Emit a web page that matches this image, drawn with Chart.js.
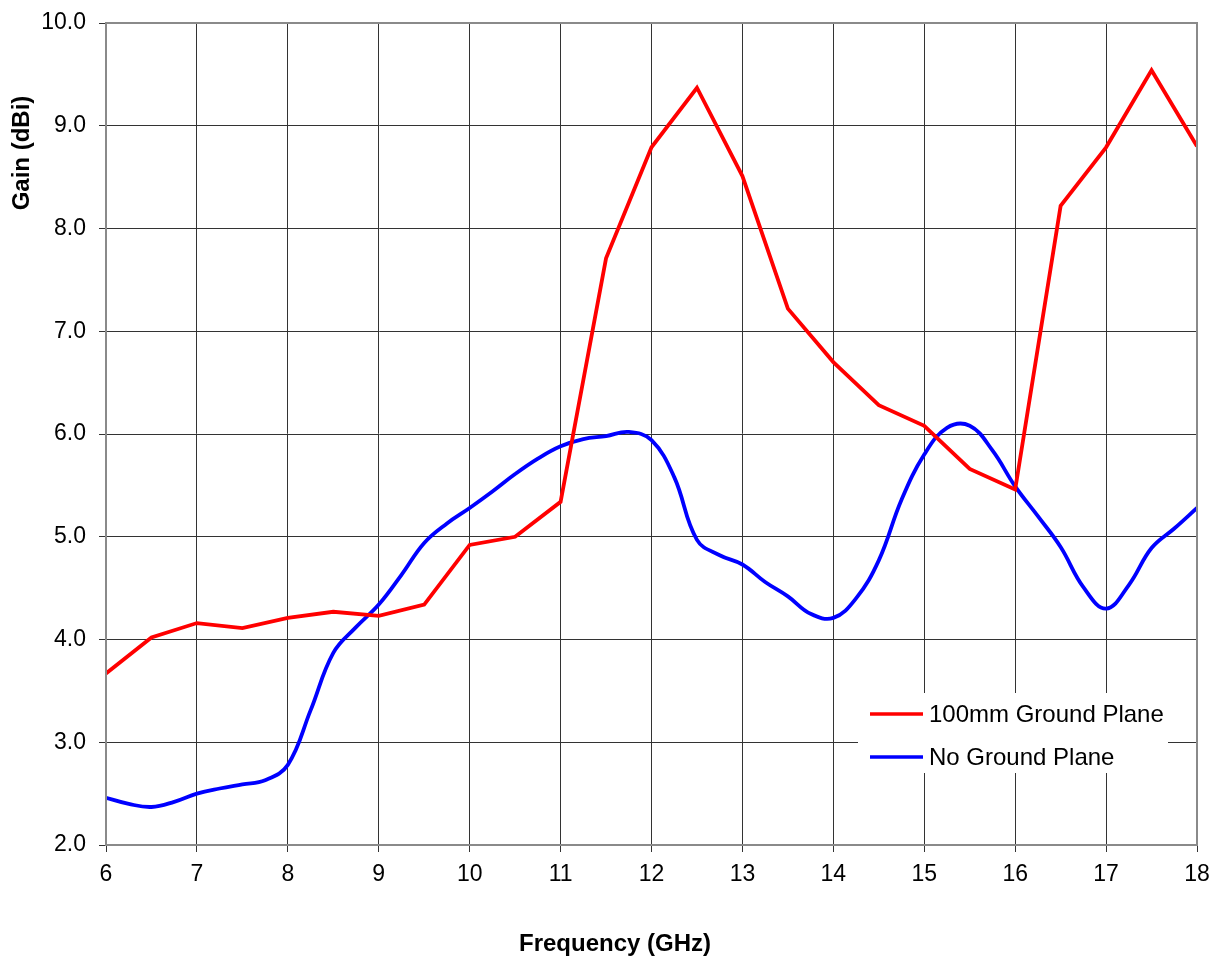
<!DOCTYPE html>
<html>
<head>
<meta charset="utf-8">
<title>Gain vs Frequency</title>
<script src="https://cdn.jsdelivr.net/npm/chart.js@4/dist/chart.umd.min.js"></script>
<style>
  html, body { margin: 0; padding: 0; background: #fff; }
  #wrap { width: 1211px; height: 956px; }
</style>
</head>
<body>
<div id="wrap"><canvas id="gainChart" width="1211" height="956"></canvas></div>
<script>
// frecuencias en GHz
const freqGround = [6, 6.5, 7, 7.5, 8, 8.5, 9, 9.5, 10, 10.5, 11, 11.5, 12, 12.5, 13, 13.5, 14, 14.5, 15, 15.5, 16, 16.5, 17, 17.5, 18]
const gainGround = [3.67, 4.02, 4.16, 4.11, 4.21, 4.27, 4.23, 4.34, 4.92, 5.00, 5.34, 7.71, 8.79, 9.37, 8.51, 7.22, 6.70, 6.28, 6.08, 5.66, 5.46, 8.22, 8.79, 9.54, 8.80]

const freqNoGround = [6, 6.25, 6.5, 6.75, 7, 7.25, 7.5, 7.75, 8, 8.25, 8.5, 8.75, 9, 9.25, 9.5, 9.75, 10, 10.25, 10.5, 10.75, 11, 11.25, 11.5, 11.75, 12, 12.25, 12.5, 12.75, 13, 13.25, 13.5, 13.75, 14, 14.25, 14.5, 14.75, 15, 15.25, 15.5, 15.75, 16, 16.25, 16.5, 16.75, 17, 17.25, 17.5, 17.75, 18]
const gainNoGround = [2.46, 2.40, 2.37, 2.42, 2.50, 2.55, 2.59, 2.63, 2.78, 3.31, 3.87, 4.12, 4.34, 4.63, 4.94, 5.13, 5.28, 5.44, 5.61, 5.76, 5.88, 5.95, 5.98, 6.02, 5.94, 5.58, 4.97, 4.82, 4.73, 4.56, 4.42, 4.25, 4.21, 4.40, 4.77, 5.36, 5.80, 6.06, 6.08, 5.84, 5.49, 5.20, 4.90, 4.51, 4.30, 4.53, 4.89, 5.08, 5.28]

const seriesLabels = ['100mm Ground Plane', 'No Ground Plane']
const seriesColors = ['#ff0000', '#0000ff']

const xTitle = 'Frequency (GHz)'
const yTitle = 'Gain (dBi)'

const fontFamily = '"Liberation Sans", Arial, sans-serif'
const gridColor = '#333333'
const frameColor = '#8a8a8a'

function toPoints(xs, ys) {
  return xs.map((x, i) => ({ x: x, y: ys[i] }))
}

// marco gris alrededor del área de trazado
const framePlugin = {
  id: 'frame',
  afterDraw(chart) {
    const a = chart.chartArea
    const c = chart.ctx
    c.save()
    c.strokeStyle = frameColor
    c.lineWidth = 2
    c.strokeRect(a.left, a.top, a.right - a.left, a.bottom - a.top)
    c.restore()
  }
}

// títulos de ejes: el de Y va arriba, el de X algo a la izquierda del centro
const axisTitles = {
  id: 'axisTitles',
  afterDraw(chart) {
    const a = chart.chartArea
    const c = chart.ctx
    c.save()
    c.fillStyle = '#000'
    c.font = 'bold 24px ' + fontFamily
    c.textAlign = 'center'
    c.textBaseline = 'middle'
    c.fillText(xTitle, a.left + 509, a.bottom + 99)
    c.translate(a.left - 84, a.top + 130)
    c.rotate(-Math.PI / 2)
    c.fillText(yTitle, 0, 0)
    c.restore()
  }
}

// leyenda dentro del área de trazado, abajo a la derecha
const boxLegend = {
  id: 'boxLegend',
  afterDraw(chart) {
    const a = chart.chartArea
    const c = chart.ctx
    const x = a.right - 339
    const y = a.top + 670
    c.save()
    c.fillStyle = '#fff'
    c.fillRect(x, y, 310, 80)
    c.font = '24px ' + fontFamily
    c.textBaseline = 'middle'
    chart.data.datasets.forEach((ds, i) => {
      const ly = y + 21 + i * 43
      c.strokeStyle = ds.borderColor
      c.lineWidth = 3.5
      c.beginPath()
      c.moveTo(x + 12, ly)
      c.lineTo(x + 65, ly)
      c.stroke()
      c.fillStyle = '#000'
      c.fillText(ds.label, x + 71, ly + 1)
    })
    c.restore()
  }
}

const ctx = document.getElementById('gainChart')

new Chart(ctx, {
  type: 'line',
  data: {
    datasets: [
      {
        label: seriesLabels[0],
        data: toPoints(freqGround, gainGround),
        borderColor: seriesColors[0],
        borderWidth: 3.8,
        pointRadius: 0,
        tension: 0,
        fill: false
      },
      {
        label: seriesLabels[1],
        data: toPoints(freqNoGround, gainNoGround),
        borderColor: seriesColors[1],
        borderWidth: 3.8,
        pointRadius: 0,
        tension: 0.4,
        fill: false
      }
    ]
  },
  options: {
    responsive: false,
    animation: false,
    layout: { padding: { left: 0, right: 14, top: 23, bottom: 0 } },
    plugins: {
      legend: { display: false },
      tooltip: { enabled: false }
    },
    scales: {
      x: {
        type: 'linear',
        min: 6,
        max: 18,
        afterFit(scale) {
          scale.height = 111
          scale.paddingLeft = 0
          scale.paddingRight = 0
        },
        ticks: {
          stepSize: 1,
          color: '#000',
          padding: 9,
          font: { family: fontFamily, size: 23 }
        },
        grid: { color: gridColor, lineWidth: 1, tickLength: 7 },
        border: { color: frameColor, width: 2 }
      },
      y: {
        min: 2,
        max: 10,
        afterFit(scale) {
          scale.width = 106
          scale.paddingTop = 0
          scale.paddingBottom = 0
        },
        ticks: {
          stepSize: 1,
          color: '#000',
          padding: 13,
          font: { family: fontFamily, size: 23 },
          callback: (v) => v.toFixed(1)
        },
        grid: { color: gridColor, lineWidth: 1, tickLength: 7 },
        border: { color: frameColor, width: 2 }
      }
    }
  },
  plugins: [framePlugin, axisTitles, boxLegend]
})
</script>
</body>
</html>
